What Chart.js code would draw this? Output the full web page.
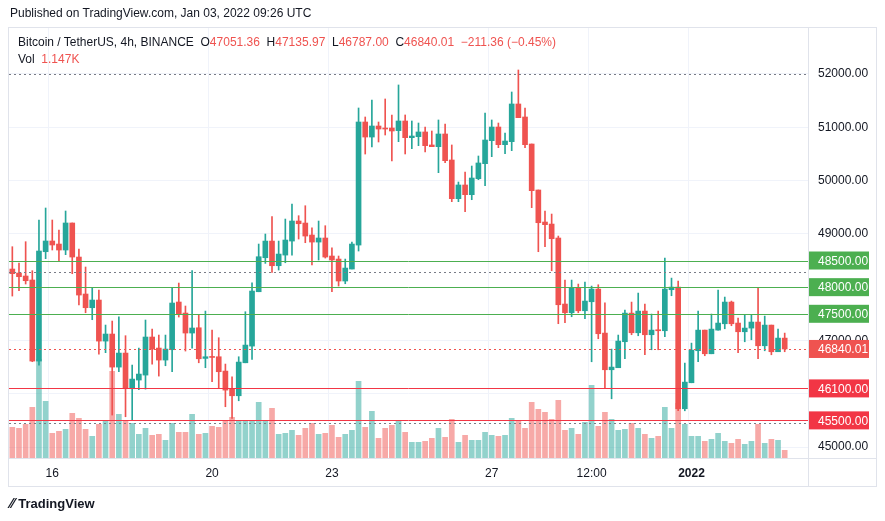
<!DOCTYPE html>
<html><head><meta charset="utf-8">
<script src="https://cdn.jsdelivr.net/npm/chart.js@4/dist/chart.umd.min.js"></script>
<style>
body{margin:0;background:#fff;font-family:"Liberation Sans",Arial,sans-serif;color:#131722}
#wrap{position:relative;width:885px;height:521px}
canvas{position:absolute;left:0;top:0}
.t{position:absolute;font-size:12px;white-space:nowrap}
.r{color:#ef5350}
</style></head><body>
<div id="wrap">
<canvas id="c" width="885" height="521"></canvas>
<div class="t" style="left:10px;top:6px">Published on TradingView.com, Jan 03, 2022 09:26 UTC</div>
<div class="t" style="left:18px;top:35px">Bitcoin / TetherUS, 4h, BINANCE&nbsp;&nbsp;O<span class="r">47051.36</span>&nbsp;&nbsp;H<span class="r">47135.97</span>&nbsp;&nbsp;L<span class="r">46787.00</span>&nbsp;&nbsp;C<span class="r">46840.01</span>&nbsp;&nbsp;<span class="r">−211.36 (−0.45%)</span></div>
<div class="t" style="left:18px;top:52px">Vol&nbsp;&nbsp;<span class="r">1.147K</span></div>
<div class="t" style="left:10px;top:495px;font-size:13px;font-weight:bold"><span style="font-size:14px">⁄⁄</span> TradingView</div>
</div>
<script>
const opens=[48340,48265,48209,48134,46613,48665,48866,48809,48697,49204,48565,47871,47614,47758,46988,47120,46500,46763,46094,46257,46350,47064,46857,46632,46826,47721,47514,47139,47238,46663,46694,46694,46425,46100,45962,46581,46894,47914,48552,48865,48402,48602,48865,49241,49203,48978,48846,48922,48584,48527,48115,48340,48790,51099,50817,51024,50986,50986,50937,51118,50805,50824,50912,50668,50636,50874,50386,49660,49917,49735,50035,50317,50749,51005,50674,50730,51437,51193,50686,49823,49222,49184,48922,47683,47520,47995,47557,47726,47964,47138,46450,46488,46976,47513,47144,47551,47107,47194,47182,47952,48001,45718,46206,46807,47194,46750,47194,47313,47720,47326,47163,47232,47345,46900,47288,46788,47044];
const highs=[48759,48453,48853,48309,49260,49485,49260,49072,49429,49204,48715,48378,47990,47946,47289,47364,47445,47089,46538,46857,47383,47214,47101,47101,47990,48077,47646,48309,47489,47551,47195,47051,46557,46319,46694,47539,48083,48809,48997,49322,48865,49278,49560,49341,49528,49115,49241,49153,48740,48584,48527,48847,51362,51193,51512,51099,51531,51230,51794,51231,51118,51080,51005,50930,51137,51062,50668,49973,50160,50273,50461,51268,51137,51080,50893,51662,52075,51362,50686,49823,49428,49372,48959,48133,48133,48058,48096,48020,48045,47707,46838,47101,47570,47720,47889,47682,47495,47551,48546,48170,48114,46575,46950,47551,47194,47495,47945,47814,47739,47420,47476,47476,47989,47457,47288,47213,47138];
const lows=[47833,47934,48059,46601,46538,48534,48697,48490,48609,48252,47665,47520,47389,46744,46770,45600,46413,45568,45506,46075,46087,46557,46331,46525,46413,47439,46801,46857,46581,46488,46225,46100,45756,45537,45868,46581,46644,47914,48446,48277,48321,48458,48602,48903,48834,48415,48509,48546,47914,48021,48064,48340,48678,50498,50630,50724,50855,50367,50730,50499,50599,50655,50536,50636,50148,50336,49604,49604,49416,49641,50017,49904,50448,50617,50505,50561,51180,50617,49491,48665,48759,48308,47314,47332,47445,47520,47407,46600,47032,46112,45905,46656,46656,47107,47088,46731,46825,46825,47069,47839,45680,45680,46206,46600,46713,46750,47194,47219,47276,46769,46975,47013,46656,46806,46731,46788,46788];
const closes=[48253,48196,48121,46613,48678,48866,48791,48697,49204,48565,47852,47614,47758,46988,47120,46500,46763,46094,46275,46369,47064,46838,46632,46838,47702,47495,47139,47233,46656,46694,46681,46413,46068,45962,46594,46913,47927,48571,48865,48402,48621,48884,49241,49190,48959,48846,48922,48565,48509,48115,48358,48809,51099,50817,51024,50967,50967,50930,51118,50805,50836,50912,50655,50636,50874,50373,49660,49917,49735,50048,50330,50761,51005,50674,50742,51437,51180,50674,49810,49209,49172,48909,47670,47520,47995,47557,47739,47964,47126,46450,46500,46988,47513,47144,47551,47107,47194,47182,47964,48001,45718,46218,46819,47194,46750,47213,47326,47720,47313,47163,47232,47345,46900,47288,46788,47044,46840];
const volumes=[31,30,34,51,99,57,25,27,29,45,40,29,22,34,38,87,44,38,35,24,30,23,24,18,35,26,26,44,24,25,32,31,38,41,38,38,38,56,37,50,24,25,28,23,30,35,24,25,33,21,24,28,77,31,47,20,30,33,37,26,16,16,17,20,30,21,39,16,23,18,18,26,23,22,23,40,38,30,56,49,46,39,58,28,30,24,36,73,32,46,39,28,29,35,30,24,20,22,51,30,55,34,22,22,17,19,25,17,15,19,14,17,34,15,19,18,8];
const priceTicks=[45000,46000,47000,48000,49000,50000,51000,52000];
const timeLabels={6:'16',30:'20',48:'23',72:'27',87:'12:00',102:'2022'};
const levelsGreen=[48500,48000,47500];
const levelsRed=[46100,45500];
const lastPrice=46840.01;

const N=120;
const labels=Array.from({length:N},(_,i)=>i);
const up=opens.map((o,i)=>closes[i]>=o);
const G='#26a69a',R='#ef5350';
const candleCol=up.map(u=>u?G:R);
const volCol=up.map(u=>u?'rgba(38,166,154,0.5)':'rgba(239,83,80,0.5)');

const deco={
  id:'deco',
  afterDatasetsDraw(c){
    const {ctx,chartArea:a,scales:{y}}=c;
    ctx.save();
    const hline=(v,col,dash,lw)=>{const py=Math.round(y.getPixelForValue(v))+.5;ctx.strokeStyle=col;ctx.lineWidth=lw;ctx.setLineDash(dash);ctx.beginPath();ctx.moveTo(a.left,py);ctx.lineTo(a.right,py);ctx.stroke();};
    hline(52000,'#787b86',[2,3],1);hline(48290,'#787b86',[2,3],1);hline(45450,'#787b86',[2,3],1);
    hline(lastPrice,R,[2,3],1);
    levelsGreen.forEach(v=>hline(v,'#4caf50',[],1));
    levelsRed.forEach(v=>hline(v,'#f23645',[],1));
    ctx.setLineDash([]);
    // frame
    ctx.strokeStyle='#e0e3eb';ctx.lineWidth=1;
    ctx.strokeRect(8.5,27.5,868,459);
    ctx.beginPath();ctx.moveTo(a.right+.5,27);ctx.lineTo(a.right+.5,487);ctx.moveTo(8,a.bottom+.5);ctx.lineTo(877,a.bottom+.5);ctx.stroke();
    // price tags
    ctx.font='12px "Liberation Sans",Arial';ctx.textBaseline='middle';
    const tag=(v,bg,txt)=>{const py=y.getPixelForValue(v);ctx.fillStyle=bg;ctx.fillRect(a.right+1,py-9,60,18);ctx.fillStyle='#fff';ctx.fillText(txt,a.right+10,py+1);};
    levelsGreen.forEach(v=>tag(v,'#4caf50',v.toFixed(2)));
    levelsRed.forEach(v=>tag(v,'#f23645',v.toFixed(2)));
    tag(lastPrice,R,lastPrice.toFixed(2));
    ctx.restore();
  }
};

new Chart(document.getElementById('c'),{
  type:'bar',
  data:{labels,datasets:[
    {data:opens.map((o,i)=>[lows[i],highs[i]]),backgroundColor:candleCol,barThickness:1,grouped:false,order:1,minBarLength:1},
    {data:opens.map((o,i)=>[o,closes[i]]),backgroundColor:candleCol,barThickness:5,grouped:false,order:0,minBarLength:1},
    {data:volumes,yAxisID:'v',backgroundColor:volCol,barPercentage:0.85,categoryPercentage:1,grouped:false,order:2}
  ]},
  options:{
    animation:false,responsive:false,
    layout:{padding:{left:9,top:28,right:9,bottom:37}},
    plugins:{legend:{display:false},tooltip:{enabled:false}},
    scales:{
      x:{offset:true,grid:{color:c=>timeLabels[c.index]!==undefined?'#f0f3fa':'transparent',drawTicks:false},border:{display:false},
        afterFit:s=>{s.height=26;},
        ticks:{autoSkip:false,maxRotation:0,padding:8,color:'#131722',font:c=>({size:12,family:'"Liberation Sans",Arial',weight:c.tick&&c.tick.label==='2022'?'bold':'normal'}),
          callback:(v,i)=>timeLabels[i]||''}},
      y:{position:'right',min:44794,max:52863,grid:{color:'#f0f3fa',drawTicks:false},border:{display:false},
        afterFit:s=>{s.width=68;},
        afterBuildTicks:s=>{s.ticks=priceTicks.map(v=>({value:v}));},
        ticks:{padding:10,color:'#131722',font:{size:12,family:'"Liberation Sans",Arial'},callback:v=>(+v).toFixed(2)}},
      v:{display:false,min:0,max:430}
    }
  },
  plugins:[deco]
});
</script>
</body></html>
